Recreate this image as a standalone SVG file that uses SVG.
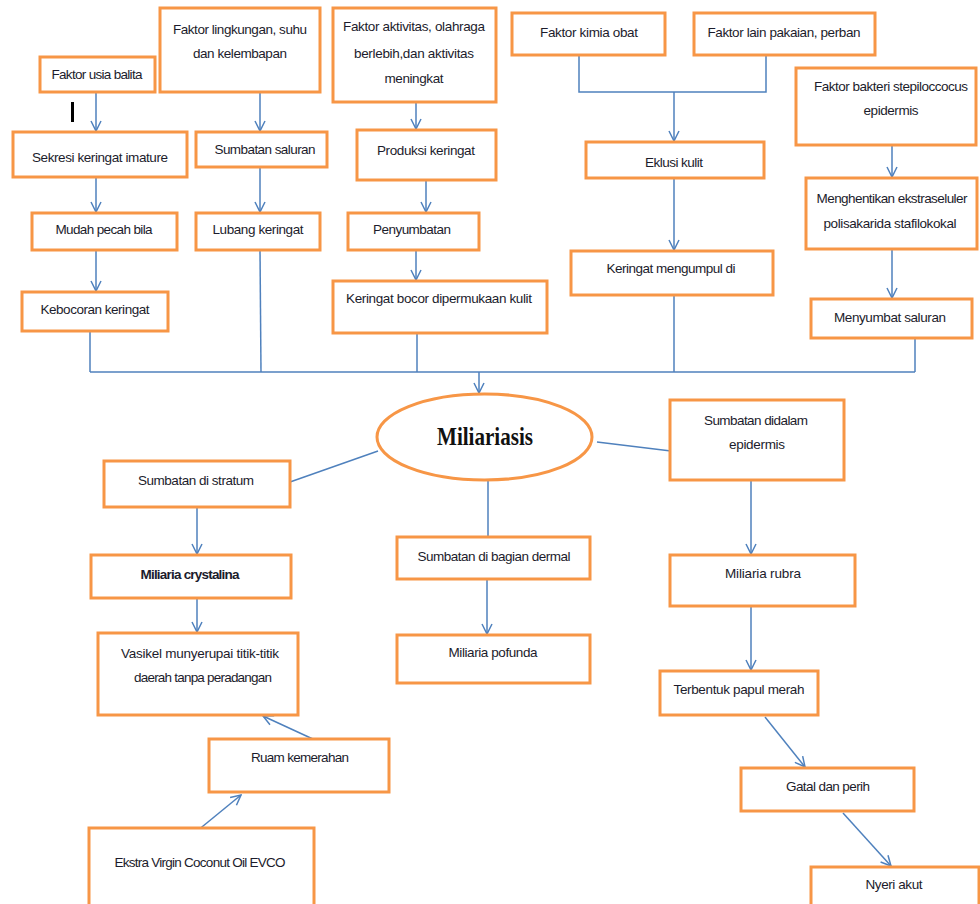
<svg xmlns="http://www.w3.org/2000/svg" width="980" height="904" viewBox="0 0 980 904">
<style>
.box{fill:#fff;stroke:#F79646;stroke-width:3}
.t{font-family:"Liberation Sans",Arial,sans-serif;font-size:13.5px;fill:#1c1c2c;text-anchor:middle}
.c{fill:none;stroke:#4F81BD;stroke-width:1.5}
.a{marker-end:url(#arr)}
</style>
<defs>
<marker id="arr" markerUnits="userSpaceOnUse" markerWidth="12" markerHeight="12" viewBox="0 0 12 12" refX="11" refY="6" orient="auto">
<path d="M1,1 L11,6 L1,11" fill="none" stroke="#4F81BD" stroke-width="1.5"/>
</marker>
</defs>
<rect width="980" height="904" fill="#fff"/>

<g id="connectors">
<line class="c a" x1="96" y1="92" x2="96" y2="131"/>
<line class="c a" x1="260" y1="92" x2="260" y2="131"/>
<line class="c a" x1="96" y1="177" x2="96" y2="212"/>
<line class="c a" x1="260" y1="167" x2="260" y2="212"/>
<line class="c a" x1="96" y1="250" x2="96" y2="291"/>
<line class="c" x1="260" y1="250" x2="261" y2="372"/>
<line class="c" x1="90" y1="331" x2="90" y2="372"/>
<polyline class="c" points="90,372 915,372"/>
<line class="c a" x1="416" y1="102" x2="416" y2="129"/>
<line class="c a" x1="426" y1="180" x2="426" y2="212"/>
<line class="c a" x1="416" y1="250" x2="416" y2="280"/>
<line class="c" x1="417" y1="333" x2="417" y2="372"/>
<line class="c a" x1="479" y1="372" x2="479" y2="393"/>
<polyline class="c" points="579,55 579,92 766,92 766,55"/>
<line class="c a" x1="674" y1="92" x2="674" y2="141"/>
<line class="c a" x1="674" y1="178" x2="674" y2="250"/>
<line class="c" x1="674" y1="295" x2="674" y2="372"/>
<line class="c a" x1="892" y1="145" x2="892" y2="177"/>
<line class="c a" x1="892" y1="249" x2="892" y2="298"/>
<line class="c" x1="915" y1="338" x2="915" y2="372"/>
<line class="c" x1="378" y1="451" x2="290" y2="482"/>
<line class="c" x1="597" y1="442" x2="671" y2="451"/>
<line class="c" x1="488" y1="480" x2="488" y2="537"/>
<line class="c a" x1="197" y1="507" x2="197" y2="554"/>
<line class="c a" x1="197" y1="598" x2="197" y2="632"/>
<line class="c a" x1="315" y1="740" x2="263" y2="716"/>
<line class="c a" x1="197" y1="831" x2="241" y2="795"/>
<line class="c a" x1="487" y1="579" x2="487" y2="634"/>
<line class="c a" x1="751" y1="480" x2="751" y2="554"/>
<line class="c a" x1="751" y1="606" x2="751" y2="670"/>
<line class="c a" x1="765" y1="717" x2="805" y2="767"/>
<line class="c a" x1="843" y1="813" x2="891" y2="866"/>
</g>

<rect x="71" y="102" width="3" height="20" fill="#000"/>

<g id="n-usia"><rect class="box" x="40" y="57" width="115" height="35"/><text class="t" x="97" y="79" textLength="91">Faktor usia balita</text></g>
<g id="n-lingkungan"><rect class="box" x="160" y="8" width="160" height="84"/><text class="t" x="240" y="34" textLength="134">Faktor lingkungan, suhu</text><text class="t" x="240" y="58" textLength="94">dan kelembapan</text></g>
<g id="n-sekresi"><rect class="box" x="13" y="132" width="174" height="45"/><text class="t" x="100" y="162" textLength="136">Sekresi keringat imature</text></g>
<g id="n-sumbatan-saluran"><rect class="box" x="196" y="132" width="131" height="35"/><text class="t" x="265" y="154" textLength="101">Sumbatan saluran</text></g>
<g id="n-aktivitas"><rect class="box" x="333" y="8" width="163" height="94"/><text class="t" x="414" y="31" textLength="142">Faktor aktivitas, olahraga</text><text class="t" x="414" y="58" textLength="120">berlebih,dan aktivitas</text><text class="t" x="414" y="83" textLength="59">meningkat</text></g>
<g id="n-produksi"><rect class="box" x="357" y="130" width="139" height="50"/><text class="t" x="426" y="155" textLength="98">Produksi keringat</text></g>
<g id="n-kimia"><rect class="box" x="512" y="13" width="153" height="42"/><text class="t" x="589" y="37" textLength="98">Faktor kimia obat</text></g>
<g id="n-lain"><rect class="box" x="694" y="13" width="181" height="42"/><text class="t" x="784" y="37" textLength="153">Faktor lain pakaian, perban</text></g>
<g id="n-bakteri"><rect class="box" x="796" y="68" width="180" height="77"/><text class="t" x="891" y="91" textLength="154">Faktor bakteri stepiloccocus</text><text class="t" x="891" y="115" textLength="55">epidermis</text></g>
<g id="n-eklusi"><rect class="box" x="586" y="142" width="178" height="36"/><text class="t" x="674" y="167" textLength="58">Eklusi kulit</text></g>
<g id="n-menghentikan"><rect class="box" x="806" y="178" width="171" height="71"/><text class="t" x="892" y="203" textLength="151">Menghentikan ekstraseluler</text><text class="t" x="890" y="228" textLength="133">polisakarida stafilokokal</text></g>
<g id="n-mudah"><rect class="box" x="32" y="213" width="145" height="37"/><text class="t" x="104" y="234" textLength="97">Mudah pecah bila</text></g>
<g id="n-lubang"><rect class="box" x="196" y="213" width="124" height="37"/><text class="t" x="258" y="234" textLength="91">Lubang keringat</text></g>
<g id="n-kebocoran"><rect class="box" x="22" y="292" width="146" height="39"/><text class="t" x="95" y="314" textLength="109">Kebocoran keringat</text></g>
<g id="n-penyumbatan"><rect class="box" x="348" y="213" width="131" height="37"/><text class="t" x="412" y="234" textLength="78">Penyumbatan</text></g>
<g id="n-bocor"><rect class="box" x="333" y="281" width="214" height="52"/><text class="t" x="439" y="303" textLength="186">Keringat bocor dipermukaan kulit</text></g>
<g id="n-mengumpul"><rect class="box" x="571" y="251" width="202" height="44"/><text class="t" x="671" y="273" textLength="129">Keringat mengumpul di</text></g>
<g id="n-menyumbat"><rect class="box" x="811" y="299" width="161" height="39"/><text class="t" x="890" y="322" textLength="112">Menyumbat saluran</text></g>

<g id="n-miliariasis"><ellipse cx="484.5" cy="437" rx="107.5" ry="43" fill="#fff" stroke="#F79646" stroke-width="3"/><text x="485" y="445" text-anchor="middle" font-family="'Liberation Serif','Times New Roman',serif" font-size="25" font-weight="bold" fill="#111" textLength="96" lengthAdjust="spacingAndGlyphs">Miliariasis</text></g>

<g id="n-stratum"><rect class="box" x="104" y="461" width="186" height="46"/><text class="t" x="196" y="485" textLength="116">Sumbatan di stratum</text></g>
<g id="n-crystalina"><rect class="box" x="91" y="555" width="200" height="43"/><text class="t" x="190" y="579" font-weight="bold" textLength="99">Miliaria crystalina</text></g>
<g id="n-vasikel"><rect class="box" x="98" y="633" width="200" height="82"/><text class="t" x="200" y="658" textLength="158">Vasikel munyerupai titik-titik</text><text class="t" x="203" y="682" textLength="138">daerah tanpa peradangan</text></g>
<g id="n-ruam"><rect class="box" x="209" y="739" width="180" height="53"/><text class="t" x="300" y="762" textLength="98">Ruam kemerahan</text></g>
<g id="n-evco"><rect class="box" x="89" y="828" width="225" height="84"/><text class="t" x="200" y="867" textLength="171">Ekstra Virgin Coconut Oil EVCO</text></g>
<g id="n-dermal"><rect class="box" x="397" y="537" width="193" height="42"/><text class="t" x="494" y="561" textLength="153">Sumbatan di bagian dermal</text></g>
<g id="n-pofunda"><rect class="box" x="397" y="635" width="193" height="48"/><text class="t" x="493" y="657" textLength="89">Miliaria pofunda</text></g>
<g id="n-epidermis"><rect class="box" x="670" y="400" width="174" height="80"/><text class="t" x="756" y="425" textLength="104">Sumbatan didalam</text><text class="t" x="757" y="449" textLength="56">epidermis</text></g>
<g id="n-rubra"><rect class="box" x="670" y="555" width="185" height="51"/><text class="t" x="763" y="578" textLength="76">Miliaria rubra</text></g>
<g id="n-papul"><rect class="box" x="660" y="671" width="158" height="44"/><text class="t" x="739" y="694" textLength="131">Terbentuk papul merah</text></g>
<g id="n-gatal"><rect class="box" x="741" y="768" width="173" height="43"/><text class="t" x="828" y="791" textLength="84">Gatal dan perih</text></g>
<g id="n-nyeri"><rect class="box" x="811" y="867" width="168" height="45"/><text class="t" x="894" y="889" textLength="57">Nyeri akut</text></g>
</svg>
